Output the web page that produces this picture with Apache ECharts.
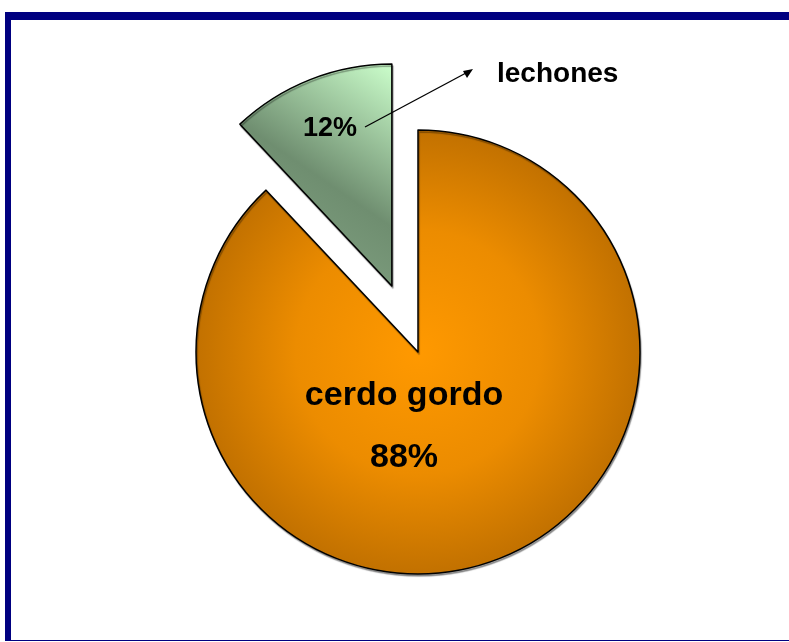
<!DOCTYPE html>
<html>
<head>
<meta charset="utf-8">
<script src="https://cdn.jsdelivr.net/npm/echarts@6/dist/echarts.min.js"></script>
<style>
  html, body { margin: 0; padding: 0; background: #fff; }
  #chart { position: absolute; left: 0; top: 0; width: 789px; height: 642px; }
  #frame {
    position: absolute; left: 5px; top: 12px; width: 778px; height: 620px;
    border-left: 6px solid #000080; border-top: 8px solid #000080; border-bottom: 1px solid #000080;
    pointer-events: none;
  }
</style>
</head>
<body>
<div id="chart"></div>
<div id="frame"></div>
<script>
// data
const names = ["cerdo gordo", "lechones"];
const values = [88, 12];

const fontFamily = '"Liberation Sans", Arial, sans-serif';

const orangeFill = {
  type: "radial", x: 418, y: 352, r: 222, global: true,
  colorStops: [
    { offset: 0, color: "#ff9900" },
    { offset: 0.55, color: "#ec8c00" },
    { offset: 1, color: "#c27100" },
  ],
};
const greenFill = {
  type: "linear", x: 1, y: 0, x2: 0, y2: 1,
  colorStops: [
    { offset: 0, color: "#ccffcc" },
    { offset: 0.5, color: "#6f8e70" },
    { offset: 0.75, color: "#7c9c7d" },
    { offset: 1, color: "#a8cca8" },
  ],
};

const hidden = {
  itemStyle: { color: "transparent", borderWidth: 0, shadowColor: "transparent" },
  label: { show: false },
};

// the exploded slice is drawn by a second pie, shifted along its bisector
const explode = 71;
const mid = (values[0] + values[1] / 2) / (values[0] + values[1]) * 2 * Math.PI;
const cx2 = 418 + Math.sin(mid) * explode;
const cy2 = 352 - Math.cos(mid) * explode;

const baseSeries = {
  type: "pie",
  radius: 222,
  startAngle: 90,
  clockwise: true,
  silent: true,
  emphasis: { disabled: true },
  itemStyle: {
    borderColor: "#000",
    borderWidth: 1.5,
    shadowColor: "rgba(0,0,0,0.35)",
    shadowBlur: 1,
    shadowOffsetX: 1,
    shadowOffsetY: 2,
  },
  label: {
    position: "inside",
    color: "#000",
    fontWeight: "bold",
    fontFamily: fontFamily,
  },
  labelLine: { show: false },
};

const chart = echarts.init(document.getElementById("chart"));

chart.setOption({
  backgroundColor: "#fff",
  animation: false,
  series: [
    Object.assign({}, baseSeries, {
      center: [418, 352],
      data: [
        {
          name: names[0],
          value: values[0],
          itemStyle: { color: orangeFill },
          label: { formatter: "{b}\n{d}%", fontSize: 34, lineHeight: 62 },
        },
        Object.assign({ name: names[1], value: values[1] }, hidden),
      ],
      labelLayout: function () {
        return { x: 404, y: 427 };
      },
    }),
    Object.assign({}, baseSeries, {
      center: [cx2, cy2],
      data: [
        Object.assign({ name: names[0], value: values[0] }, hidden),
        {
          name: names[1],
          value: values[1],
          itemStyle: { color: greenFill },
          label: { formatter: "{d}%", fontSize: 27 },
        },
      ],
      labelLayout: function () {
        return { x: 330, y: 129 };
      },
    }),
  ],
  graphic: [
    {
      type: "line",
      z: 100,
      shape: { x1: 365, y1: 127, x2: 466, y2: 73 },
      style: { stroke: "#000", lineWidth: 1.3 },
    },
    {
      type: "polygon",
      z: 100,
      shape: { points: [[473, 69], [463, 71], [467, 78]] },
      style: { fill: "#000" },
    },
    {
      type: "text",
      z: 100,
      left: 497,
      top: 60,
      style: {
        text: names[1],
        fill: "#000",
        font: "bold 28px " + fontFamily,
      },
    },
  ],
});
</script>
</body>
</html>
